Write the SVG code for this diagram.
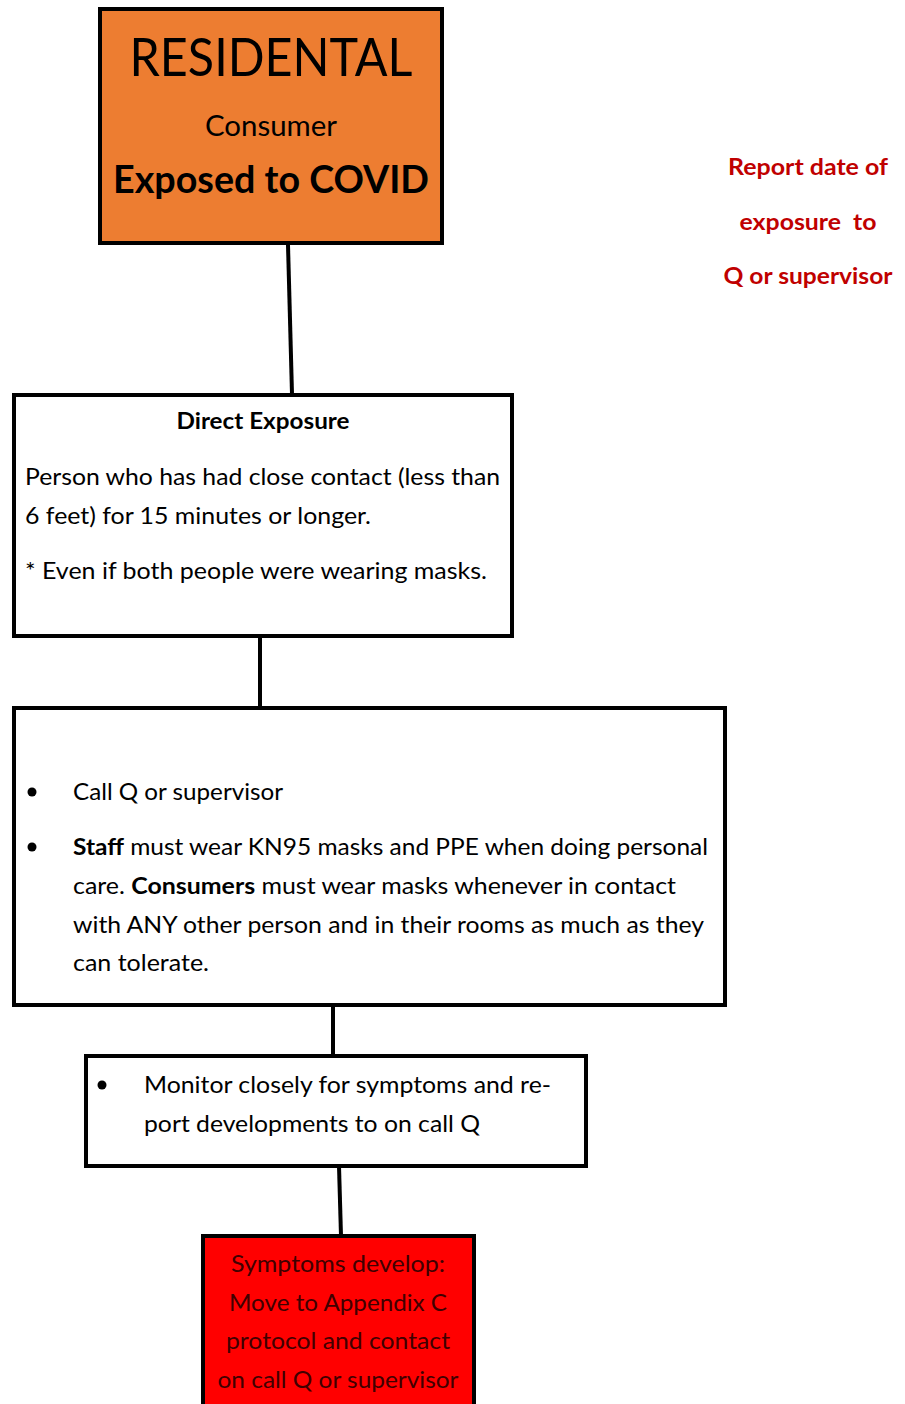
<svg xmlns="http://www.w3.org/2000/svg" width="905" height="1404" viewBox="0 0 905 1404">
<style>
text{font-family:Lato,"Open Sans","Liberation Sans",sans-serif;fill:#000}
.box{stroke:#000;stroke-width:4;fill:#fff}
.b{font-weight:bold}
.t{font-size:23px}
.red{fill:#C00000;font-weight:bold;font-size:22px}
.c{text-anchor:middle}
.conn line{stroke:#000;stroke-width:4}
</style>
<rect width="905" height="1404" fill="#fff"/>
<g class="conn">
<line x1="288" y1="245" x2="292" y2="394"/>
<line x1="260" y1="636" x2="260" y2="708"/>
<line x1="333" y1="997" x2="333" y2="1054"/>
<line x1="339" y1="1166" x2="341" y2="1236"/>
</g>
<g id="n-residental">
<rect class="box" x="100" y="9" width="342" height="234" fill="#ED7D31" style="fill:#ED7D31"/>
<text class="c" x="271" y="76" font-size="52" textLength="283" lengthAdjust="spacingAndGlyphs">RESIDENTAL</text>
<text class="c" x="271" y="136" font-size="28" textLength="132" lengthAdjust="spacingAndGlyphs">Consumer</text>
<text class="c b" x="271" y="193" font-size="38" textLength="316" lengthAdjust="spacingAndGlyphs">Exposed to COVID</text>
</g>
<g id="n-report">
<text class="red c" x="808" y="175" textLength="160" lengthAdjust="spacingAndGlyphs">Report date of</text>
<text class="red c" x="808" y="230" textLength="137" lengthAdjust="spacingAndGlyphs" xml:space="preserve">exposure  to</text>
<text class="red c" x="808" y="284" textLength="169" lengthAdjust="spacingAndGlyphs">Q or supervisor</text>
</g>
<g id="n-direct">
<rect class="box" x="14" y="395" width="498" height="241"/>
<text class="c b" x="263" y="429" font-size="22" textLength="173" lengthAdjust="spacingAndGlyphs">Direct Exposure</text>
<text class="t" x="25" y="485" textLength="475" lengthAdjust="spacingAndGlyphs">Person who has had close contact (less than</text>
<text class="t" x="25" y="524" textLength="346" lengthAdjust="spacingAndGlyphs">6 feet) for 15 minutes or longer.</text>
<text class="t" x="25" y="579" textLength="462" lengthAdjust="spacingAndGlyphs">* Even if both people were wearing masks.</text>
</g>
<g id="n-actions">
<rect class="box" x="14" y="708" width="711" height="297"/>
<circle cx="32" cy="792" r="4.5"/>
<circle cx="32" cy="847" r="4.5"/>
<text class="t" x="73" y="800" textLength="210" lengthAdjust="spacingAndGlyphs">Call Q or supervisor</text>
<text class="t" x="73" y="855" textLength="635" lengthAdjust="spacingAndGlyphs"><tspan class="b">Staff</tspan> must wear KN95 masks and PPE when doing personal</text>
<text class="t" x="73" y="894" textLength="603" lengthAdjust="spacingAndGlyphs">care. <tspan class="b">Consumers</tspan> must wear masks whenever in contact</text>
<text class="t" x="73" y="933" textLength="631" lengthAdjust="spacingAndGlyphs">with ANY other person and in their rooms as much as they</text>
<text class="t" x="73" y="971" textLength="136" lengthAdjust="spacingAndGlyphs">can tolerate.</text>
</g>
<g id="n-monitor">
<rect class="box" x="86" y="1056" width="500" height="110"/>
<circle cx="102" cy="1085" r="4.5"/>
<text class="t" x="144" y="1093" textLength="407" lengthAdjust="spacingAndGlyphs">Monitor closely for symptoms and re-</text>
<text class="t" x="144" y="1132" textLength="336" lengthAdjust="spacingAndGlyphs">port developments to on call Q</text>
</g>
<g id="n-symptoms">
<rect class="box" x="203" y="1236" width="271" height="180" style="fill:#FF0000"/>
<text class="t c" x="338" y="1272" fill="#400000" style="fill:#400000" textLength="214" lengthAdjust="spacingAndGlyphs">Symptoms develop:</text>
<text class="t c" x="338" y="1311" style="fill:#400000" textLength="218" lengthAdjust="spacingAndGlyphs">Move to Appendix C</text>
<text class="t c" x="338" y="1349" style="fill:#400000" textLength="224" lengthAdjust="spacingAndGlyphs">protocol and contact</text>
<text class="t c" x="338" y="1388" style="fill:#400000" textLength="241" lengthAdjust="spacingAndGlyphs">on call Q or supervisor</text>
</g>
</svg>
